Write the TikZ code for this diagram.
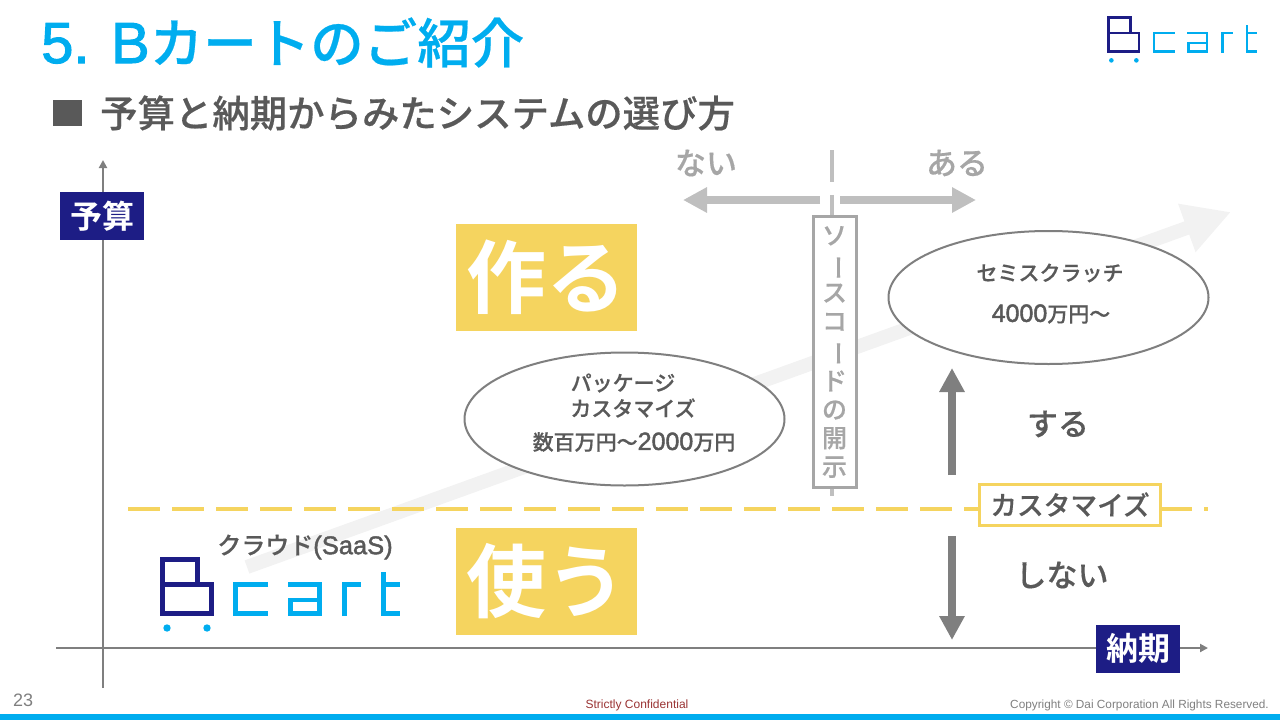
\documentclass[tikz,border=0pt]{standalone}
\usepackage{fontspec}
\setmainfont{Noto Sans CJK JP Medium}[FakeBold=.4]
\newfontfamily\boldjp{Noto Sans CJK JP Bold}
\newfontfamily\latinfont{Liberation Sans}[FakeBold=1.8]
\newfontfamily\footfont{Liberation Sans}
\usetikzlibrary{arrows.meta}
\usetikzlibrary{shapes.geometric}
\definecolor{bluecart}{HTML}{00ADEF}
\definecolor{navycart}{HTML}{1D1D85}
\definecolor{yellowcart}{HTML}{F5D45F}
\definecolor{darktext}{HTML}{595959}
\definecolor{axisgrey}{HTML}{7F7F7F}
\definecolor{lightgrey}{HTML}{BFBFBF}
\definecolor{sourcegrey}{HTML}{A6A6A6}
\newcommand{\fsize}[1]{\fontsize{#1}{#1}\selectfont}
\tikzset{
    txt/.style={inner sep=0pt,text=darktext},
    yellowbox/.style={fill=yellowcart,text=white,minimum width=181pt,minimum height=107pt,inner sep=0pt,font=\fsize{80}\boldjp},
    navybox/.style={fill=navycart,text=white,minimum width=84pt,minimum height=48pt,inner sep=0pt,font=\fsize{32}\boldjp},
    priceellipse/.style={draw=axisgrey,line width=2pt,fill=white,ellipse,minimum width=320pt,minimum height=133pt,inner sep=0pt},
    axisline/.style={draw=axisgrey,line width=2pt,-{Triangle[length=8pt,width=8pt]}},
    bigarrow/.style={line width=8pt,-{Triangle[length=24pt,width=24pt]}},
    pics/cartlogo/.style={code={
        \draw[navycart,line width=#1pt] (2.5,2.5) rectangle (37.5,27.5);
        \draw[navycart,line width=#1pt] (2.5,27.5) rectangle (51.5,56.5);
        \fill[bluecart] (7,71) circle (3.7) (47,71) circle (3.7);
        \draw[bluecart,line width=#1pt] (108,27.5)--(75.5,27.5)--(75.5,56.5)--(108,56.5);
        \draw[bluecart,line width=#1pt] (128,27.5)--(159.5,27.5)--(159.5,56.5)--(130.5,56.5)--(130.5,43)--(159.5,43);
        \draw[bluecart,line width=#1pt] (184.5,59)--(184.5,27.5)--(201,27.5);
        \draw[bluecart,line width=#1pt] (223.5,15)--(223.5,56.5)--(240,56.5);
        \draw[bluecart,line width=#1pt] (223.5,27.5)--(240,27.5);
    }}
}
\begin{document}
\begin{tikzpicture}[x=1pt,y=-1pt]
    \useasboundingbox (0,0) rectangle (1280,720);
    \fill[bluecart] (0,714) rectangle (1280,720);

    \node[txt,anchor=base west,text=bluecart,font=\fsize{53.5}] (title) at (41,63) {{\latinfont\fsize{58}5. B}カートのご紹介};
    \fill[darktext] (53,100) rectangle (82,126);
    \node[txt,anchor=west,font=\fsize{37.4}] (subtitle) at (100,113) {予算と納期からみたシステムの選び方};
    \pic at (1107,16) [scale=.625] {cartlogo=2.4};

    \coordinate (trendstart) at (247,567);
    \coordinate (trendend) at (1231,212);
    \draw[line width=14pt,draw=black!5,-{Triangle[length=47pt,width=48pt]}] (trendstart)--(trendend);

    \coordinate (yaxisstart) at (103,688);
    \coordinate (yaxisend) at (103,160);
    \coordinate (xaxisstart) at (56,648);
    \coordinate (xaxisend) at (1208,648);
    \draw[axisline] (yaxisstart)--(yaxisend);
    \draw[axisline] (xaxisstart)--(xaxisend);
    \node[navybox] (budget) at (102,216) {予算};
    \node[navybox] (delivery) at (1138,648.5) {納期};

    \coordinate (customstart) at (128,509);
    \coordinate (customend) at (1000,509);
    \coordinate (customresume) at (1160,509);
    \coordinate (customlast) at (1208,509);
    \draw[yellowcart,line width=4pt,dash pattern=on 32pt off 12pt] (customstart)--(customend);
    \draw[yellowcart,line width=4pt,dash pattern=on 32pt off 12pt] (customresume)--(customlast);
    \node[draw=yellowcart,line width=3pt,fill=white,minimum width=181pt,minimum height=41pt,inner sep=0pt,text=darktext,font=\fsize{26.7}] (customize) at (1070,504.5) {カスタマイズ};

    \coordinate (sourcestart) at (832,150);
    \coordinate (sourceend) at (832,495.6);
    \draw[lightgrey,line width=4pt,dash pattern=on 32pt off 12.8pt] (sourcestart)--(sourceend);
    \node[draw=sourcegrey,line width=3pt,fill=white,minimum width=43pt,minimum height=271pt,inner sep=0pt,text=sourcegrey,align=center,font=\fsize{25}] (source) at (834.5,352) {ソ\\[3.6pt]\rotatebox[origin=c]{-90}{ー}\\[3.6pt]ス\\[3.6pt]コ\\[3.6pt]\rotatebox[origin=c]{-90}{ー}\\[3.6pt]ド\\[3.6pt]の\\[3.6pt]開\\[3.6pt]示};

    \coordinate (openleft) at (820,200);
    \coordinate (openleftend) at (683,200);
    \coordinate (openright) at (840,200);
    \coordinate (openrightend) at (976,200);
    \draw[bigarrow,lightgrey] (openleft)--(openleftend);
    \draw[bigarrow,lightgrey] (openright)--(openrightend);
    \node[txt,text=sourcegrey,font=\fsize{31}] (closedlabel) at (706,163) {ない};
    \node[txt,text=sourcegrey,font=\fsize{31}] (openlabel) at (957,163) {ある};

    \node[yellowbox] (build) at (546.5,277.5) {作る};
    \node[yellowbox] (use) at (546.5,581.5) {使う};

    \node[priceellipse] (package) at (624.5,419) {};
    \node[txt,font=\fsize{21}] (packagea) at (623,383) {パッケージ};
    \node[txt,font=\fsize{21}] (packageb) at (633,408) {カスタマイズ};
    \node[txt,font=\fsize{21}] (packagec) at (634,442) {数百万円〜{\latinfont\fsize{25}2000}万円};
    \node[priceellipse] (scratch) at (1048.5,297.5) {};
    \node[txt,font=\fsize{21}] (scratcha) at (1050,273) {セミスクラッチ};
    \node[txt,font=\fsize{21}] (scratchb) at (1051,314) {{\latinfont\fsize{25}4000}万円〜};

    \coordinate (dostart) at (952,475);
    \coordinate (doend) at (952,368);
    \coordinate (dontstart) at (952,536);
    \coordinate (dontend) at (952,640);
    \draw[bigarrow,axisgrey] (dostart)--(doend);
    \draw[bigarrow,axisgrey] (dontstart)--(dontend);
    \node[txt,font=\fsize{31}] (dolabel) at (1058,424) {する};
    \node[txt,font=\fsize{31}] (dontlabel) at (1062,575) {しない};

    \node[txt,font=\fsize{24}] (cloud) at (305,547) {クラウド{\latinfont\fsize{25.5}(SaaS)}};
    \pic at (160,557) {cartlogo=4.4};

    \node[txt,anchor=west,text=axisgrey,font=\footfont\fsize{18}] (pagenum) at (13,700) {23};
    \node[txt,text=red!50!black!80,font=\footfont\fsize{12}] (confidential) at (637,705) {Strictly Confidential};
    \node[txt,anchor=east,text=axisgrey,font=\footfont\fsize{11.8}] (copyright) at (1269,705) {Copyright © Dai Corporation All Rights Reserved.};
\end{tikzpicture}
\end{document}
